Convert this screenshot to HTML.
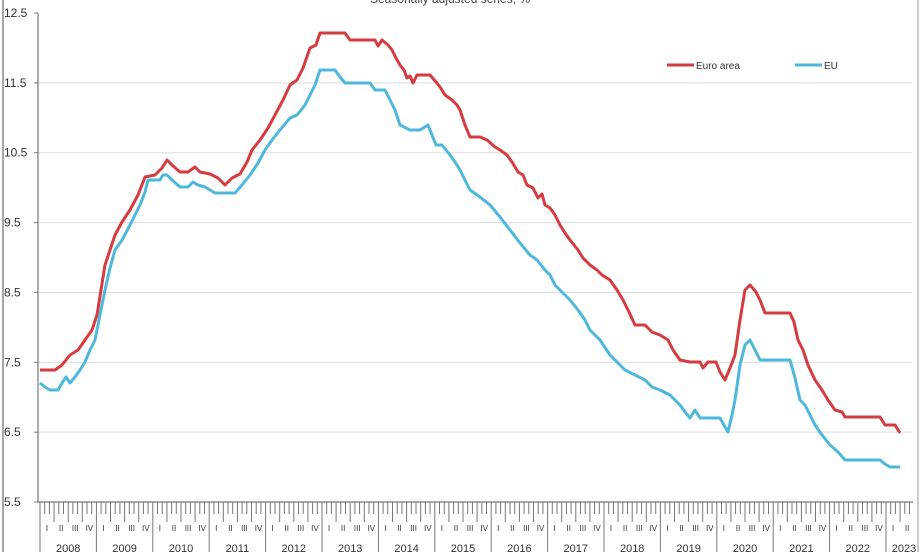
<!DOCTYPE html>
<html><head><meta charset="utf-8"><style>
html,body{margin:0;padding:0;background:#fff;}
svg{display:block;font-family:"Liberation Sans",Arial,sans-serif;}
</style></head><body>
<svg id="s" width="920" height="552" viewBox="0 0 920 552" xmlns="http://www.w3.org/2000/svg">
<rect x="0" y="0" width="920" height="552" fill="#fff"/>
<line x1="3" y1="0" x2="3" y2="552" stroke="#888" stroke-width="1.5"/>
<line x1="918" y1="0" x2="918" y2="552" stroke="#bbb" stroke-width="1.5"/>
<text x="450" y="3" text-anchor="middle" font-size="12" fill="#444">Seasonally adjusted series, %</text>
<g id="grid" stroke="#ddd" stroke-width="1"></g>
<g id="ylab" font-size="12" fill="#333"></g>
<line x1="38" y1="13" x2="38" y2="502" stroke="#777" stroke-width="1.2"/>
<line x1="38" y1="502" x2="913" y2="502" stroke="#777" stroke-width="1.2"/>
<g id="ticks" stroke="#777" stroke-width="1"></g>
<g id="xlab" fill="#333"></g>
<polyline fill="none" stroke="#d63b3f" stroke-width="3" stroke-linejoin="round" points="40,370 55,370 62,365 70,355 78,350 85,340 92,330 97,315 101,290 105,265 110,250 115,235 122,222 130,210 138,195 145,177 155,175 162,168 167,160 172,165 180,172 188,172 195,167 200,172 210,174 218,178 225,185 232,178 240,174 247,162 252,150 260,140 268,128 275,115 283,100 290,85 297,80 303,68 310,48 316,45 320,33 330,33 345,33 350,40 365,40 375,40 378,46 382,40 388,45 392,50 396,58 400,65 404,70 407,78 410,76 413,83 417,75 430,75 436,82 440,87 445,95 452,100 457,105 460,110 465,125 470,137 480,137 487,140 495,147 500,150 507,155 512,162 518,172 523,175 527,185 533,188 538,198 542,194 545,205 550,208 555,215 560,225 565,233 570,240 578,250 583,258 590,265 597,270 602,275 610,280 617,290 623,300 629,312 635,325 645,325 652,332 660,335 668,340 673,350 680,360 690,362 700,362 703,368 708,362 716,362 720,372 725,380 730,368 735,355 740,320 745,290 750,285 756,292 760,300 765,313 775,313 790,313 794,322 798,340 803,350 808,365 815,380 822,390 828,400 835,410 842,412 845,417 860,417 880,417 885,425 895,425 900,433"/>
<polyline fill="none" stroke="#4db8dc" stroke-width="3" stroke-linejoin="round" points="40,383 45,387 50,390 58,390 62,383 66,377 70,383 75,377 80,370 85,362 90,350 95,340 100,315 105,290 110,268 115,250 122,240 130,225 135,215 140,205 145,192 148,180 160,180 163,175 167,175 172,180 180,187 188,187 193,182 198,185 205,187 215,193 225,193 235,193 242,185 250,175 258,163 265,150 272,140 280,130 290,118 297,115 305,105 310,95 315,85 320,70 335,70 340,77 345,83 360,83 370,83 375,90 385,90 390,100 395,110 400,125 410,130 420,130 428,125 432,135 436,145 442,145 450,155 455,162 460,170 465,180 470,190 480,197 490,205 500,217 510,230 520,243 530,255 537,260 545,270 550,275 555,285 562,292 570,300 578,310 585,320 590,330 600,340 610,355 617,362 625,370 635,375 645,380 652,387 660,390 670,395 675,400 680,405 685,412 690,418 695,410 700,418 710,418 720,418 724,425 728,432 732,415 735,400 740,365 745,345 750,340 755,350 760,360 775,360 790,360 795,378 800,400 805,405 810,415 815,425 822,435 830,445 838,452 845,460 860,460 880,460 885,464 890,467 900,467"/>
<line x1="667" y1="65" x2="694" y2="65" stroke="#d63b3f" stroke-width="3"/>
<text x="696" y="69" font-size="10" fill="#333">Euro area</text>
<line x1="795" y1="65" x2="822" y2="65" stroke="#4db8dc" stroke-width="3"/>
<text x="824" y="69" font-size="10" fill="#333">EU</text>
</svg>
<script>
var NS="http://www.w3.org/2000/svg";
function el(p,t,a,txt){var e=document.createElementNS(NS,t);for(var k in a)e.setAttribute(k,a[k]);if(txt)e.textContent=txt;document.getElementById(p).appendChild(e);}
var vals=["12.5","11.5","10.5","9.5","8.5","7.5","6.5","5.5"];
for(var i=0;i<8;i++){var y=13+i*69.86;
 if(i>0&&i<7)el("grid","line",{x1:38,y1:y,x2:912,y2:y});
 el("grid","line",{x1:34,y1:y,x2:38,y2:y,stroke:"#777"});
 el("ylab","text",{x:4,y:y+4,"font-size":12},vals[i]);}
var x0=40,yw=56.4,mw=yw/12;
for(var m=0;m<12*15+6;m++){var x=x0+m*mw;if(x>913)break;
 var h=m%12==0?552:(m%3==0?522:514);
 el("ticks","line",{x1:x,y1:502,x2:x,y2:h});}
var q=["I","II","III","IV"];
for(var yr=0;yr<16;yr++){
 for(var k=0;k<4;k++){var x=x0+yr*yw+k*3*mw+mw*1.5;if(x>913)break;
  el("xlab","text",{x:x,y:531,"font-size":8,"text-anchor":"middle"},q[k]);}
 var cx=x0+yr*yw+yw/2; if(yr==15)cx=904;
 if(x0+yr*yw<913) el("xlab","text",{x:cx,y:552,"font-size":11,"text-anchor":"middle"},String(2008+yr));}
</script>
</body></html>
